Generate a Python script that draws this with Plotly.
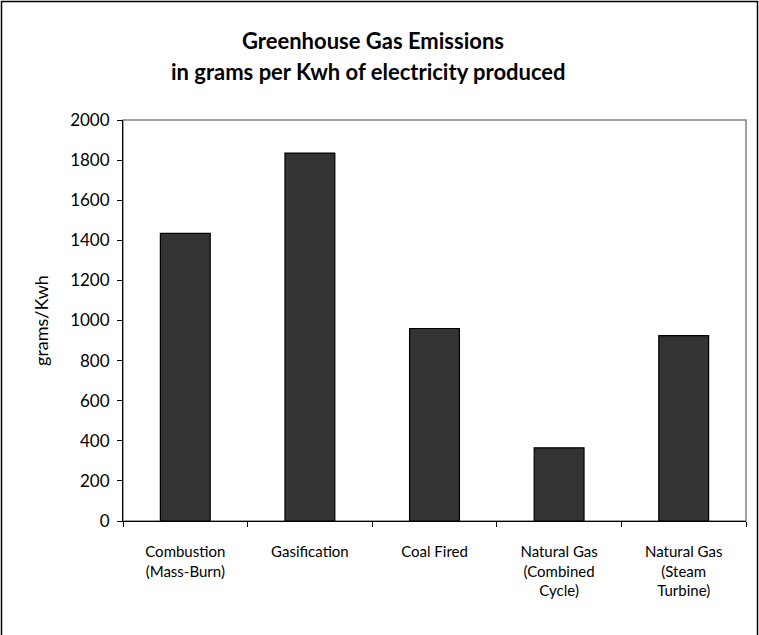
import plotly.graph_objects as go

categories = ["Combustion<br>(Mass-Burn)", "Gasification", "Coal Fired",
              "Natural Gas<br>(Combined<br>Cycle)", "Natural Gas<br>(Steam<br>Turbine)"]
values = [1435, 1835, 960, 365, 925]
y_ticks = [0, 200, 400, 600, 800, 1000, 1200, 1400, 1600, 1800, 2000]

FONT = "Lato"
W, H = 759, 635
L, R, T, B = 123, 13, 120, 114
pw, ph = W - L - R, H - T - B

def px_to_paper_x(p):
    return (p - L) / pw

def px_to_paper_y(p):
    return (H - B - p) / ph

fig = go.Figure()
fig.add_trace(go.Bar(
    x=categories, y=values,
    marker=dict(color="#333333", line=dict(color="#000000", width=1.2)),
    width=0.4,
))

fig.update_layout(
    width=W, height=H,
    margin=dict(l=L, r=R, t=T, b=B),
    paper_bgcolor="white", plot_bgcolor="white",
    showlegend=False,
    font=dict(family=FONT, size=14, color="black"),
    xaxis=dict(
        showline=True, linecolor="black", linewidth=1,
        ticks="outside", tickson="boundaries", ticklen=5, tickcolor="black",
        showgrid=False, tickfont=dict(size=15, family=FONT),
        ticklabelstandoff=17,
    ),
    yaxis=dict(
        range=[0, 2000], tickvals=y_ticks,
        showline=True, linecolor="black", linewidth=1,
        ticks="outside", ticklen=5, tickcolor="black",
        showgrid=False, zeroline=False, tickfont=dict(size=17, family=FONT),
        ticklabelstandoff=4,
        title=dict(text="grams/Kwh", font=dict(size=18, family=FONT), standoff=16),
    ),
    shapes=[
        dict(type="rect", xref="paper", yref="paper", x0=0, y0=0, x1=1, y1=1,
             line=dict(color="#808080", width=1.5), layer="below"),
        dict(type="rect", xref="paper", yref="paper",
             x0=px_to_paper_x(1.5), x1=px_to_paper_x(757.5),
             y0=px_to_paper_y(640), y1=px_to_paper_y(1.5),
             line=dict(color="black", width=1.5)),
    ],
    annotations=[
        dict(text="<b>Greenhouse Gas Emissions</b>", xref="paper", yref="paper",
             x=px_to_paper_x(373), y=px_to_paper_y(40), showarrow=False,
             font=dict(size=22, family=FONT), xanchor="center", yanchor="middle"),
        dict(text="<b>in grams per Kwh of electricity produced</b>", xref="paper", yref="paper",
             x=px_to_paper_x(368), y=px_to_paper_y(72), showarrow=False,
             font=dict(size=22, family=FONT), xanchor="center", yanchor="middle"),
    ],
)

fig.write_html("out.html", config={"displayModeBar": False},
               post_script="document.body.style.margin='0px';document.body.style.padding='0px';")
